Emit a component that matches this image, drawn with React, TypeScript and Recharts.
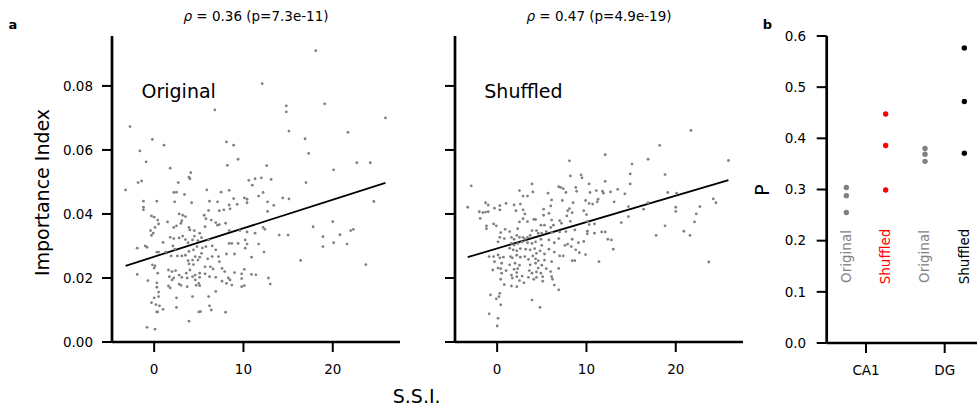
import React from 'react';
import { ScatterChart, Scatter, XAxis, YAxis, ReferenceLine } from 'recharts';

// ---- Panel a: Original (S.S.I., Importance Index)
const originalPoints: [number, number][] = [
  [18.1,0.0910],[12.1,0.0807],[6.8,0.0725],[14.8,0.0738],[14.8,0.0719],[19.1,0.0744],[-2.7,0.0673],[25.9,0.0700],[15.1,0.0659],[21.7,0.0655],[16.9,0.0635],[-0.2,0.0633],[8.1,0.0625],[8.9,0.0615],[1.1,0.0615],[-1.6,0.0597],[17.3,0.0589],[-0.9,0.0563],[9.4,0.0571],[22.7,0.0560],[24.2,0.0560],[8.2,0.0552],[12.6,0.0551],[1.8,0.0543],[20.1,0.0538],[4.1,0.0529],[3.9,0.0515],[4.0,0.0510],[11.3,0.0510],[12.0,0.0513],[13.1,0.0508],[10.6,0.0505],[-1.8,0.0498],[-1.4,0.0503],[2.7,0.0498],[17.0,0.0498],[11.0,0.0490],[-3.2,0.0475],[5.9,0.0475],[7.5,0.0468],[8.4,0.0474],[2.2,0.0467],[2.5,0.0468],[3.4,0.0461],[12.2,0.0467],[11.7,0.0456],[8.9,0.0448],[10.1,0.0450],[10.4,0.0446],[14.4,0.0450],[15.1,0.0447],
  [-1.2,0.0440],[0.3,0.0440],[2.3,0.0438],[4.2,0.0435],[6.2,0.0440],[7.1,0.0438],[12.7,0.0438],[13.4,0.0427],[-1.2,0.0421],[-1.2,0.0413],[8.4,0.0428],[9.3,0.0430],[10.4,0.0435],[12.7,0.0408],[6.4,0.0381],[7.3,0.0410],[7.8,0.0413],[8.5,0.0416],[6.1,0.0411],[5.6,0.0396],[5.8,0.0385],[2.8,0.0400],[3.2,0.0396],[3.5,0.0392],[3.1,0.0379],[3.0,0.0371],[-0.3,0.0394],[0.0,0.0390],[0.4,0.0381],[0.5,0.0369],[1.5,0.0375],[0.1,0.0358],[-0.4,0.0348],[-0.1,0.0340],[-0.3,0.0333],[2.2,0.0358],[2.5,0.0363],[3.9,0.0358],[4.0,0.0350],[4.5,0.0348],[5.1,0.0340],[5.7,0.0360],[7.3,0.0367],[8.0,0.0371],[6.9,0.0373],[7.1,0.0365],[8.4,0.0348],[9.6,0.0348],[10.4,0.0344],[11.3,0.0340],[12.2,0.0358],[12.4,0.0352],[14.0,0.0334],[15.0,0.0334],[1.8,0.0327],[2.2,0.0323],[2.8,0.0325],[3.2,0.0331],[3.5,0.0320],[4.3,0.0319],[4.5,0.0331],[3.8,0.0310],[4.9,0.0317],[5.3,0.0326],[1.0,0.0311],[-1.0,0.0300],[-0.8,0.0296],[-1.9,0.0293],[0.3,0.0281],[0.5,0.0281],[1.3,0.0281],[2.1,0.0300],[2.3,0.0290],[1.9,0.0269],[2.6,0.0269],[3.1,0.0269],[3.5,0.0271],[3.9,0.0283],[4.4,0.0288],[4.8,0.0298],[5.4,0.0294],[5.8,0.0298],[6.1,0.0319],[6.5,0.0300],[6.9,0.0288],[5.3,0.0277],[4.6,0.0267],[5.1,0.0265],[4.3,0.0256],[3.8,0.0254],[3.9,0.0244],[4.4,0.0242],[4.9,0.0256],[6.0,0.0260],[6.5,0.0267],[7.2,0.0267],[7.3,0.0251],[8.4,0.0308],[8.7,0.0308],[9.4,0.0308],[10.2,0.0319],[10.4,0.0306],[10.2,0.0293],[8.1,0.0275],[9.0,0.0275],[10.9,0.0265],[11.7,0.0306],[12.3,0.0281],[-0.2,0.0241],[0.1,0.0238],[0.0,0.0231],[0.4,0.0215],[-1.9,0.0211],[-0.7,0.0192],[1.6,0.0225],[2.0,0.0220],[2.4,0.0223],[1.7,0.0204],[2.0,0.0194],[2.2,0.0200],[2.8,0.0209],[3.1,0.0202],[3.6,0.0215],[4.0,0.0225],[3.7,0.0200],[4.3,0.0204],[4.6,0.0209],[5.1,0.0215],[5.1,0.0202],[4.6,0.0194],[5.0,0.0183],[5.1,0.0176],[4.7,0.0177],[1.6,0.0175],[1.8,0.0169],[2.8,0.0181],[3.0,0.0177],[3.7,0.0173],[5.7,0.0235],[6.3,0.0235],[6.6,0.0228],[5.7,0.0213],[6.2,0.0204],[6.9,0.0202],[7.6,0.0230],[7.9,0.0220],[8.3,0.0200],[8.5,0.0194],[7.6,0.0190],[8.1,0.0183],[8.7,0.0178],[6.9,0.0158],[6.1,0.0142],[4.3,0.0142],[2.5,0.0138],[0.3,0.0185],[0.3,0.0171],[0.5,0.0156],[0.0,0.0138],[0.5,0.0142],[-0.3,0.0123],[0.2,0.0117],[0.6,0.0113],[1.0,0.0102],[0.3,0.0094],[0.4,0.0094],[2.5,0.0108],[5.0,0.0094],[5.2,0.0095],[6.2,0.0113],[6.4,0.0100],[8.0,0.0093],[3.9,0.0065],[-0.8,0.0046],[0.1,0.0040],[9.8,0.0213],[9.8,0.0198],[10.1,0.0176],[10.9,0.0211],[11.4,0.0210],[12.8,0.0200],[13.0,0.0181],[9.0,0.0217],[9.8,0.0173],[10.1,0.0227],
  [24.6,0.0439],[17.8,0.0360],[20.0,0.0376],[18.9,0.0329],[18.9,0.0298],[20.1,0.0310],[20.8,0.0335],[21.6,0.0306],[22.0,0.0348],[22.3,0.0352],[16.4,0.0255],[23.7,0.0242],
];
const originalFit: [number, number][] = [[-3.2, 0.0238], [25.9, 0.0497]];

// ---- Panel a: Shuffled
const shuffledPoints: [number, number][] = [
  [21.7,0.0661],[18.2,0.0614],[25.9,0.0567],[16.9,0.0571],[18.8,0.0523],[24.2,0.0447],[19.1,0.0467],[20.1,0.0465],
  [24.5,0.0435],[20.0,0.0421],[20.0,0.0408],[22.7,0.0423],[22.3,0.0400],[22.1,0.0375],[18.8,0.0363],[17.8,0.0333],[20.9,0.0346],[21.6,0.0333],[23.7,0.0250],[16.9,0.0435],[16.4,0.0415],
  [12.1,0.0585],[8.1,0.0566],[15.1,0.0556],[14.9,0.0525],[9.4,0.0522],[8.2,0.0519],[9.5,0.0513],[12.1,0.0502],[14.9,0.0494],[-2.9,0.0488],[3.9,0.0494],[6.9,0.0485],[7.1,0.0483],[7.4,0.0479],[8.8,0.0483],[10.3,0.0494],[13.5,0.0477],[2.5,0.0473],[4.0,0.0469],[7.7,0.0467],[8.9,0.0471],[10.4,0.0467],[11.1,0.0473],[11.8,0.0471],[11.9,0.0465],[12.7,0.0469],[14.3,0.0463],[2.9,0.0456],[3.4,0.0456],[5.7,0.0465],[6.1,0.0444],[7.3,0.0442],[8.5,0.0435],[9.9,0.0442],[11.3,0.0446],[11.2,0.0438],[10.3,0.0433],[10.7,0.0431],[13.1,0.0438],[14.7,0.0423],[-1.3,0.0435],[-1.0,0.0428],[-2.0,0.0407],[-1.6,0.0404],[-1.3,0.0406],[-1.0,0.0407],[-1.9,0.0386],[-3.3,0.0421],[-0.3,0.0418],[0.3,0.0426],[0.3,0.0413],[1.0,0.0433],[1.9,0.0428],[2.1,0.0410],[2.6,0.0431],[2.9,0.0413],[3.1,0.0400],[2.9,0.0385],[3.4,0.0376],[2.5,0.0375],[2.3,0.0354],[4.1,0.0383],[4.3,0.0383],[5.2,0.0415],[5.2,0.0396],[5.8,0.0402],[6.0,0.0425],[4.9,0.0365],[5.3,0.0365],[6.0,0.0358],[6.3,0.0365],[6.1,0.0381],[7.0,0.0379],[7.2,0.0371],[7.8,0.0394],[7.9,0.0410],[8.1,0.0417],[8.4,0.0404],[8.2,0.0377],[9.7,0.0410],[10.0,0.0398],[10.1,0.0377],[10.3,0.0367],[10.9,0.0369],[10.1,0.0346],[10.1,0.0338],[10.9,0.0340],[11.7,0.0344],[12.1,0.0344],[12.4,0.0321],[12.8,0.0319],[13.0,0.0290],[13.9,0.0373],[14.7,0.0392],[-0.4,0.0369],[-0.1,0.0363],[-1.2,0.0363],[-1.2,0.0354],[0.4,0.0342],[0.9,0.0352],[0.3,0.0327],[0.1,0.0313],[0.8,0.0323],[1.4,0.0345],[1.6,0.0327],[1.9,0.0321],[2.2,0.0333],[2.5,0.0327],[2.9,0.0327],[3.1,0.0321],[3.4,0.0327],[3.7,0.0333],[3.9,0.0348],[4.4,0.0348],[4.6,0.0340],[5.0,0.0340],[5.5,0.0345],[6.1,0.0342],[7.0,0.0344],[7.7,0.0345],[8.7,0.0350],[1.6,0.0308],[1.9,0.0303],[2.3,0.0308],[2.8,0.0313],[3.4,0.0310],[3.9,0.0308],[4.3,0.0313],[4.9,0.0321],[5.0,0.0302],[5.8,0.0319],[6.4,0.0310],[6.9,0.0323],[7.6,0.0302],[7.9,0.0306],[8.4,0.0321],[9.1,0.0310],[9.7,0.0314],[8.8,0.0288],[9.2,0.0279],[9.9,0.0273],[8.3,0.0298],[7.0,0.0269],[7.4,0.0269],[8.4,0.0254],[8.7,0.0254],[11.4,0.0251],[1.4,0.0293],[1.8,0.0288],[2.2,0.0285],[2.6,0.0292],[3.2,0.0290],[3.7,0.0288],[4.2,0.0292],[4.4,0.0277],[4.8,0.0285],[5.3,0.0275],[5.8,0.0290],[6.4,0.0281],[-0.9,0.0267],[-0.4,0.0267],[0.1,0.0272],[0.3,0.0263],[0.7,0.0265],[-0.3,0.0251],[0.5,0.0246],[1.5,0.0267],[1.7,0.0263],[2.2,0.0271],[2.6,0.0265],[3.1,0.0267],[3.5,0.0258],[4.0,0.0269],[4.3,0.0260],[4.6,0.0254],[5.3,0.0256],[6.1,0.0251],[2.0,0.0246],[2.5,0.0240],[3.7,0.0241],[4.3,0.0246],[4.6,0.0231],[5.0,0.0240],[5.5,0.0229],[2.3,0.0229],[1.4,0.0241],[1.9,0.0227],[2.2,0.0217],[-0.5,0.0225],[0.1,0.0231],[0.4,0.0229],[0.5,0.0215],[1.0,0.0223],[3.6,0.0223],[3.9,0.0215],[4.4,0.0219],[4.9,0.0215],[6.0,0.0220],[6.9,0.0230],[6.1,0.0204],[6.2,0.0196],[4.4,0.0202],[5.1,0.0204],[5.1,0.0190],[3.5,0.0202],[2.8,0.0206],[2.2,0.0204],[1.6,0.0209],[1.7,0.0200],[2.5,0.0192],[3.0,0.0185],[4.1,0.0196],[0.4,0.0196],[0.8,0.0179],[1.6,0.0175],[2.2,0.0173],[6.4,0.0178],[6.9,0.0163],[3.9,0.0131],[4.8,0.0108],[-0.75,0.0147],[0.3,0.0152],[0.2,0.0142],[-0.1,0.0135],[0.4,0.0116],[-0.9,0.0088],[0.1,0.0074],[0.0,0.0050],
];
const shuffledFit: [number, number][] = [[-3.3, 0.0265], [25.9, 0.0506]];

const ssiTicks = [0, 10, 20];
const importanceTicks = [0, 0.02, 0.04, 0.06, 0.08];
const titles = ['= 0.36 (p=7.3e-11)', '= 0.47 (p=4.9e-19)'];

// ---- Panel b
const regions = ['CA1', 'DG'];
const ca1Original = [0.304, 0.288, 0.255];
const ca1Shuffled = [0.4475, 0.386, 0.299];
const dgOriginal = [0.380, 0.369, 0.355];
const dgShuffled = [0.5765, 0.472, 0.371];
const pTicks = [0, 0.1, 0.2, 0.3, 0.4, 0.5, 0.6];

const FONT = 'DejaVu Sans, Liberation Sans, sans-serif';
const GRAY = '#808080';

const toXY = (pts: [number, number][]) => pts.map(([x, y]) => ({ x, y }));
const smallDot = (props: any) => <circle cx={props.cx} cy={props.cy} r={1.4} fill={GRAY} />;
const bigDot = (color: string) => (props: any) => <circle cx={props.cx} cy={props.cy} r={2.7} fill={color} />;

const axisLine = { stroke: '#000', strokeWidth: 2.7 };
const tickLine = { stroke: '#000', strokeWidth: 2 };
const tickStyle = { fontSize: 13.5, fill: '#000', fontFamily: FONT };

export default function App() {
  const xDomain: [number, number] = [-4.72, 27.53];
  const yDomain: [number, number] = [0, 0.0956];
  const panelB = (vals: number[], xi: number) => vals.map((y) => ({ x: xi, y }));
  return (
    <div style={{ position: 'absolute', left: 0, top: 0, width: 977, height: 408, overflow: 'hidden', background: '#fff', fontFamily: FONT }}>
      <div style={{ position: 'absolute', left: 0, top: 0 }}>
        <ScatterChart width={410} height={408} margin={{ top: 36, right: 10, bottom: 0, left: 0 }}>
          <XAxis type="number" dataKey="x" domain={xDomain} ticks={ssiTicks} allowDataOverflow interval={0}
            height={66} axisLine={axisLine} tickLine={tickLine} tickSize={10} tickMargin={12} tick={tickStyle} />
          <YAxis type="number" dataKey="y" domain={yDomain} ticks={importanceTicks} allowDataOverflow interval={0}
            width={112} axisLine={axisLine} tickLine={tickLine} tickSize={10} tickMargin={9} tick={tickStyle}
            tickFormatter={(v: number) => v.toFixed(2)} />
          <Scatter data={toXY(originalPoints)} shape={smallDot} isAnimationActive={false} />
          <ReferenceLine segment={toXY(originalFit)} stroke="#000" strokeWidth={1.8} />
        </ScatterChart>
      </div>
      <div style={{ position: 'absolute', left: 400, top: 0 }}>
        <ScatterChart width={345} height={408} margin={{ top: 36, right: 2, bottom: 0, left: 0 }}>
          <XAxis type="number" dataKey="x" domain={xDomain} ticks={ssiTicks} allowDataOverflow interval={0}
            height={66} axisLine={axisLine} tickLine={tickLine} tickSize={10} tickMargin={12} tick={tickStyle} />
          <YAxis type="number" dataKey="y" domain={yDomain} ticks={importanceTicks} allowDataOverflow interval={0}
            width={55} axisLine={axisLine} tickLine={tickLine} tickSize={10} tickMargin={9} tick={tickStyle}
            tickFormatter={() => ''} />
          <Scatter data={toXY(shuffledPoints)} shape={smallDot} isAnimationActive={false} />
          <ReferenceLine segment={toXY(shuffledFit)} stroke="#000" strokeWidth={1.8} />
        </ScatterChart>
      </div>
      <div style={{ position: 'absolute', left: 750, top: 0 }}>
        <ScatterChart width={234} height={408} margin={{ top: 36, right: 0, bottom: 0, left: 0 }}>
          <XAxis type="number" dataKey="x" domain={[-0.5, 1.5]} ticks={[0, 1]} allowDataOverflow interval={0}
            height={65} axisLine={axisLine} tickLine={tickLine} tickSize={10} tickMargin={12} tick={tickStyle}
            tickFormatter={(v: number) => regions[v] ?? ''} />
          <YAxis type="number" dataKey="y" domain={[0, 0.6]} ticks={pTicks} allowDataOverflow interval={0}
            width={76.7} axisLine={axisLine} tickLine={tickLine} tickSize={10} tickMargin={10.5} tick={tickStyle}
            tickFormatter={(v: number) => v.toFixed(1)} />
          <Scatter data={panelB(ca1Original, -0.25)} shape={bigDot(GRAY)} isAnimationActive={false} />
          <Scatter data={panelB(ca1Shuffled, 0.25)} shape={bigDot('#ff0000')} isAnimationActive={false} />
          <Scatter data={panelB(dgOriginal, 0.75)} shape={bigDot(GRAY)} isAnimationActive={false} />
          <Scatter data={panelB(dgShuffled, 1.25)} shape={bigDot('#000')} isAnimationActive={false} />
        </ScatterChart>
      </div>
      <svg width={977} height={408} style={{ position: 'absolute', left: 0, top: 0, pointerEvents: 'none' }} fontFamily={FONT}>
        <text x={13} y={29} fontSize={13} fontWeight="bold" textAnchor="middle">a</text>
        <text x={767.5} y={29} fontSize={13} fontWeight="bold" textAnchor="middle">b</text>
        <text x={256} y={21} fontSize={13.5} textAnchor="middle"><tspan fontStyle="italic">ρ</tspan> {titles[0]}</text>
        <text x={599} y={21} fontSize={13.5} textAnchor="middle"><tspan fontStyle="italic">ρ</tspan> {titles[1]}</text>
        <text x={141.5} y={97.5} fontSize={19}>Original</text>
        <text x={484.3} y={97.5} fontSize={19}>Shuffled</text>
        <text transform="translate(48.5,192.5) rotate(-90)" fontSize={19} textAnchor="middle">Importance Index</text>
        <text x={416.7} y={403} fontSize={19} textAnchor="middle">S.S.I.</text>
        <text transform="translate(769,190) rotate(-90)" fontSize={19} textAnchor="middle">P</text>
        <text transform="translate(850.5,256.5) rotate(-90)" fontSize={13.5} textAnchor="middle" fill={GRAY}>Original</text>
        <text transform="translate(890,256.5) rotate(-90)" fontSize={13.5} textAnchor="middle" fill="#ff0000">Shuffled</text>
        <text transform="translate(929,256.5) rotate(-90)" fontSize={13.5} textAnchor="middle" fill={GRAY}>Original</text>
        <text transform="translate(969,256.5) rotate(-90)" fontSize={13.5} textAnchor="middle" fill="#000">Shuffled</text>
      </svg>
    </div>
  );
}
